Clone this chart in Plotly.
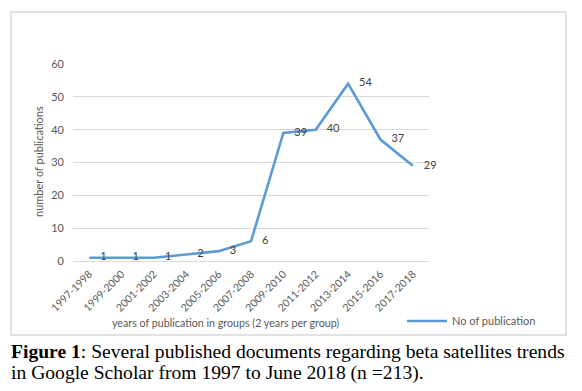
import plotly.graph_objects as go

categories = ["1997-1998", "1999-2000", "2001-2002", "2003-2004", "2005-2006",
              "2007-2008", "2009-2010", "2011-2012", "2013-2014", "2015-2016", "2017-2018"]
publications = [1, 1, 1, 2, 3, 6, 39, 40, 54, 37, 29]
series_name = "No of publication"
y_ticks = [0, 10, 20, 30, 40, 50, 60]

OFF = 8  # page body margin
W, H = 582 - OFF, 391 - OFF
# plot area in reference-page pixels
L, R, T, B = 73, 429, 64, 261

def px(x):
    return (x - L) / (R - L)

def py(y):
    return (B - y) / (B - T)

gray = "#595959"
font_fam = "Lato, 'Open Sans', sans-serif"
serif = "'Liberation Serif', 'Times New Roman', serif"

fig = go.Figure()
fig.add_trace(go.Scatter(
    x=categories, y=publications, name=series_name,
    mode="lines+markers+text",
    line=dict(color="#5B9BD5", width=2.6),
    marker=dict(size=16, color="rgba(0,0,0,0)"),
    text=[str(v) for v in publications],
    textposition="middle right",
    textfont=dict(family=font_fam, size=11, color="#404040"),
    cliponaxis=False,
))

fig.update_layout(
    width=W, height=H,
    margin=dict(l=L - OFF, r=582 - R, t=T - OFF, b=391 - B, pad=0, autoexpand=False),
    paper_bgcolor="white", plot_bgcolor="white",
    font=dict(family=font_fam, size=11, color=gray),
    showlegend=True,
    legend=dict(x=px(402), y=py(321), xanchor="left", yanchor="middle",
                font=dict(family=font_fam, size=11, color=gray),
                itemwidth=40, bgcolor="rgba(0,0,0,0)"),
    xaxis=dict(type="category", tickangle=-45, showgrid=False, showline=False,
               ticks="", tickfont=dict(size=10.5, color=gray), zeroline=False,
               ticklabelstandoff=4,
               automargin=False, range=[-0.5, len(categories) - 0.5]),
    yaxis=dict(range=[0, 60], tickvals=y_ticks, showgrid=True, gridcolor="#d9d9d9",
               gridwidth=1, zeroline=True, zerolinecolor="#d9d9d9", zerolinewidth=1,
               showline=False, ticks="", ticklabelstandoff=8, automargin=False,
               tickfont=dict(size=11, color=gray)),
)

# chart border
fig.add_shape(type="rect", xref="paper", yref="paper",
              x0=px(11), x1=px(566), y0=py(335), y1=py(12),
              line=dict(color="#d9d9d9", width=1.5), fillcolor="rgba(0,0,0,0)", layer="below")

# axis titles
fig.add_annotation(text="years of publication in groups (2 years per group)",
                   xref="paper", yref="paper", x=px(225), y=py(322),
                   xanchor="center", yanchor="middle", showarrow=False,
                   font=dict(family=font_fam, size=10.7, color=gray))
fig.add_annotation(text="number of publications", textangle=-90,
                   xref="paper", yref="paper", x=px(38), y=py(162),
                   xanchor="center", yanchor="middle", showarrow=False,
                   font=dict(family=font_fam, size=11, color=gray))

# caption
caption_lines = ["<b>Figure 1</b>: Several published documents regarding beta satellites trends",
                 "in Google Scholar from 1997 to June 2018 (n =213)."]
for i, line in enumerate(caption_lines):
    fig.add_annotation(text=line, xref="paper", yref="paper",
                       x=px(9), y=py(351 + 22 * i),
                       xanchor="left", yanchor="middle", align="left", showarrow=False,
                       font=dict(family=serif, size=19.6, color="black"))

fig.write_html("out.html")
